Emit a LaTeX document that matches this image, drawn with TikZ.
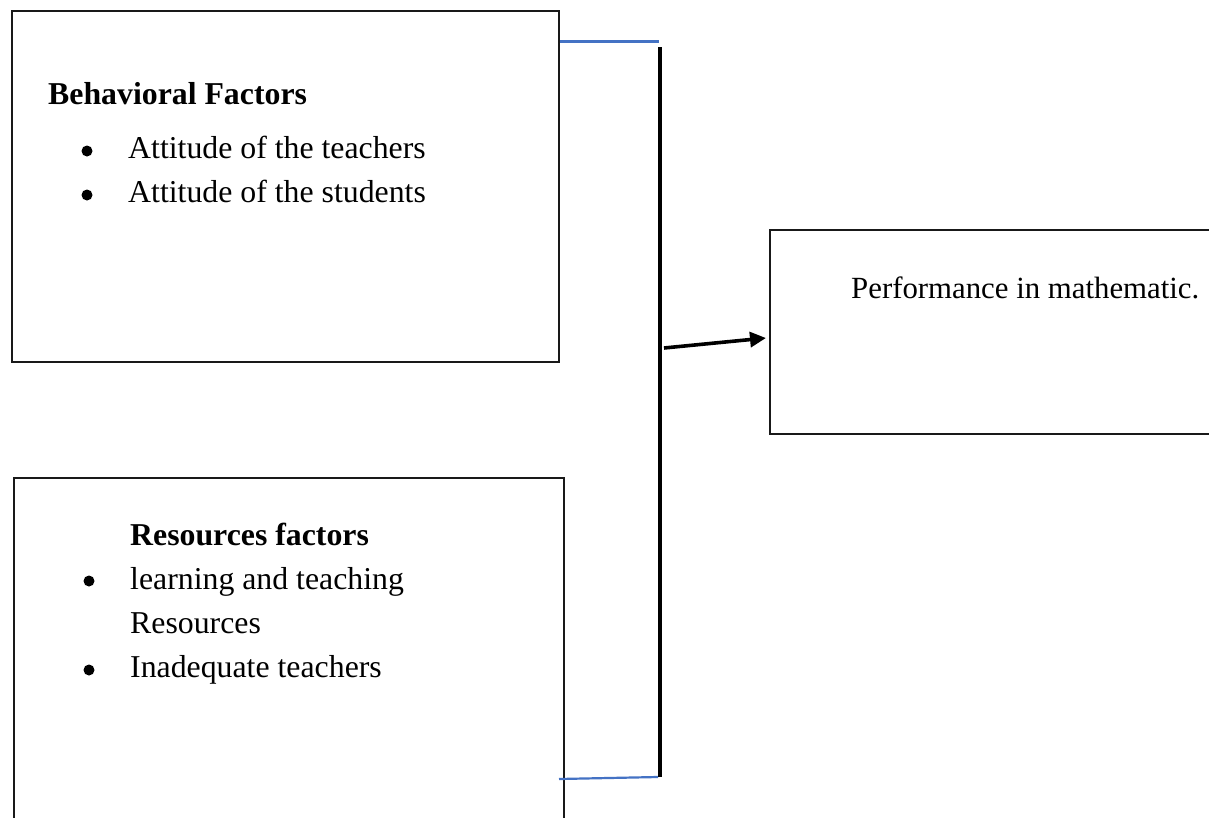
\documentclass[tikz,border=0pt]{standalone}
\usepackage{fontspec}
\setmainfont{Liberation Serif}
\usetikzlibrary{arrows.meta}
\definecolor{wordblue}{RGB}{68,114,196}
\begin{document}
\begin{tikzpicture}[x=1pt,y=-1pt,
  box/.style={draw=black!90,line width=1.8pt,rectangle,inner sep=0pt,anchor=north west},
  txt/.style={anchor=base west,inner sep=0pt,font=\fontsize{31.8pt}{44pt}\selectfont},
  head/.style={txt,font=\fontsize{31.8pt}{44pt}\selectfont\bfseries},
  dot/.style={circle,fill=black,inner sep=0pt,minimum size=11pt},
  blueline/.style={draw=wordblue,line width=2.2pt},
  barline/.style={draw=black,line width=3.4pt},
  arrowline/.style={draw=black,line width=3.6pt,-{Triangle[length=16pt,width=15pt]}}]
\useasboundingbox (0,0) rectangle (1209,817);
\fill[white] (0,0) rectangle (1209,817);
% boxes
\node[box,minimum width=547pt,minimum height=351pt] (b1) at (11,10) {};
\node[box,minimum width=550pt,minimum height=360pt] (b2) at (13,477) {};
\node[box,minimum width=470pt,minimum height=204pt] (b3) at (769,229) {};
% box 1 text
\node[head] (h1) at (48,104) {Behavioral Factors};
\node[dot] (d11) at (87,151) {};
\node[txt] (t11) at (128,158) {Attitude of the teachers};
\node[dot] (d12) at (87,195) {};
\node[txt] (t12) at (128,202) {Attitude of the students};
% box 2 text
\node[head] (h2) at (130,545) {Resources factors};
\node[dot] (d21) at (89,581) {};
\node[txt] (t21) at (130,589) {learning and teaching};
\node[txt] (t22) at (130,633) {Resources};
\node[dot] (d22) at (89,670) {};
\node[txt] (t23) at (130,677) {Inadequate teachers};
% box 3 text
\node[txt,font=\fontsize{30.8pt}{44pt}\selectfont] (t3) at (851,298) {Performance in mathematic.};
% connectors
\coordinate (vt) at (660,47);
\coordinate (vb) at (660,777);
\coordinate (bt) at (659,41.5);
\coordinate (ub1) at (559,779);
\coordinate (ub2) at (658,777);
\coordinate (a1) at (664,348);
\coordinate (a2) at (766,338);
\draw[blueline] (b1.north east |- bt) -- (bt);
\draw[blueline] (ub1) -- (ub2);
\draw[barline] (vt) -- (vb);
\draw[arrowline] (a1) -- (a2);
\end{tikzpicture}
\end{document}
